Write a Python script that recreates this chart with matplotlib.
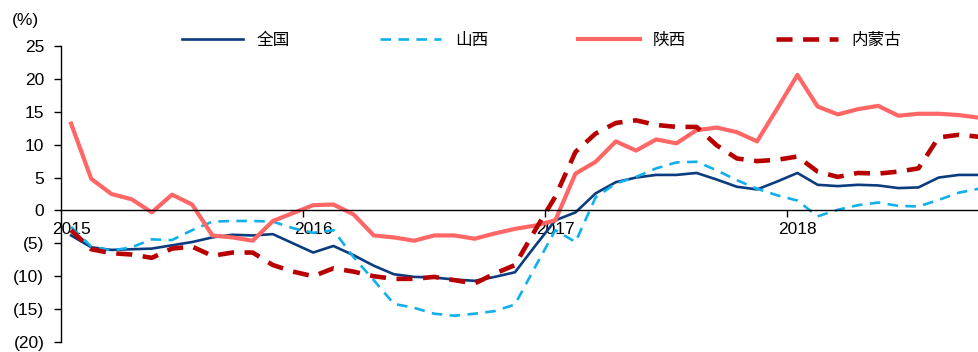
import matplotlib
matplotlib.use("Agg")
import matplotlib.pyplot as plt
import numpy as np

plt.rcParams['font.family'] = ['Liberation Sans', 'Noto Sans CJK SC', 'DejaVu Sans']

# monthly, Jan 2015 - Oct 2018
national = [-3.8, -5.6, -6.0, -5.9, -5.8, -5.3, -4.8, -4.1, -3.7, -3.8, -3.6, -5.0,
            -6.4, -5.4, -6.8, -8.4, -9.7, -10.1, -10.2, -10.5, -10.7, -10.1, -9.4, -5.4,
            -1.5, -0.3, 2.6, 4.3, 5.0, 5.4, 5.4, 5.7, 4.7, 3.6, 3.2, 4.4,
            5.7, 3.9, 3.7, 3.9, 3.8, 3.4, 3.5, 5.0, 5.4, 5.4]
shanxi = [-2.5, -5.5, -6.1, -5.6, -4.4, -4.5, -3.0, -1.7, -1.6, -1.6, -1.7, -2.7,
          -3.4, -3.0, -7.1, -10.6, -14.2, -14.8, -15.7, -16.0, -15.7, -15.3, -14.3, -8.6,
          -3.0, -4.8, 2.0, 4.1, 5.1, 6.4, 7.3, 7.4, 6.1, 4.6, 3.3, 2.3,
          1.5, -0.9, 0.1, 0.8, 1.2, 0.7, 0.6, 1.6, 2.7, 3.3]
shaanxi = [13.2, 4.8, 2.5, 1.7, -0.3, 2.4, 0.9, -3.8, -4.1, -4.6, -1.6, -0.4,
           0.8, 0.9, -0.6, -3.8, -4.1, -4.6, -3.8, -3.8, -4.3, -3.5, -2.8, -2.3,
           -1.5, 5.6, 7.4, 10.5, 9.1, 10.8, 10.2, 12.2, 12.6, 11.9, 10.5, 15.5,
           20.6, 15.8, 14.6, 15.4, 15.9, 14.4, 14.7, 14.7, 14.5, 14.1]
inner_mongolia = [-3.0, -5.9, -6.5, -6.7, -7.2, -5.8, -5.5, -6.9, -6.4, -6.4, -8.3, -9.3,
                  -10.0, -8.8, -9.3, -10.0, -10.4, -10.4, -10.1, -10.6, -11.1, -9.6, -8.3, -3.0,
                  2.1, 8.9, 11.7, 13.3, 13.7, 13.0, 12.7, 12.7, 9.9, 7.9, 7.5, 7.7,
                  8.2, 5.9, 5.1, 5.7, 5.6, 5.9, 6.4, 11.1, 11.5, 11.2]
years = ['2015', '2016', '2017', '2018']

x = np.arange(len(national))

fig = plt.figure(figsize=(9.79, 3.52), dpi=100)
ax = fig.add_axes([61/979, 10/352, 918/979, 296/352])

ax.plot(x, national, color='#0B3C7D', lw=1.9, label='全国')
ax.plot(x, shanxi, color='#10B0EC', lw=1.9, dashes=(4, 2.8), label='山西')
ax.plot(x, shaanxi, color='#FF6666', lw=3.0, label='陕西')
ax.plot(x, inner_mongolia, color='#B80000', lw=3.3, dashes=(3.5, 2.3), label='内蒙古')

ax.set_xlim(-0.5, 45)
ax.set_ylim(-20, 25)
ax.set_yticks(range(-20, 26, 5))
ax.set_yticklabels([f'({-v})' if v < 0 else str(v) for v in range(-20, 26, 5)])
ax.tick_params(axis='y', direction='out', length=5, width=1, labelsize=12.5, pad=7)

ax.spines['top'].set_visible(False)
ax.spines['right'].set_visible(False)
ax.spines['bottom'].set_position(('data', 0))
ax.spines['bottom'].set_linewidth(1)
ax.spines['left'].set_linewidth(1)

ax.set_xticks([11.5, 23.5, 35.5])
ax.set_xticklabels([])
ax.set_xticks([0, 12, 24, 36], minor=True)
ax.set_xticklabels(years, minor=True)
ax.tick_params(axis='x', which='major', direction='out', length=5, width=1)
ax.tick_params(axis='x', which='minor', length=0, labelsize=12.5, pad=8)

fig.text(12/979, 1 - 20/352, '(%)', fontsize=12.5, va='center', ha='left')

leg = fig.legend(loc='center', bbox_to_anchor=(0.553, 1 - 40/352), ncol=4, frameon=False,
                 handlelength=3.7, handletextpad=0.8, columnspacing=5.4,
                 prop={'family': 'Noto Sans CJK SC', 'size': 12})

fig.savefig('out.png', dpi=100)
